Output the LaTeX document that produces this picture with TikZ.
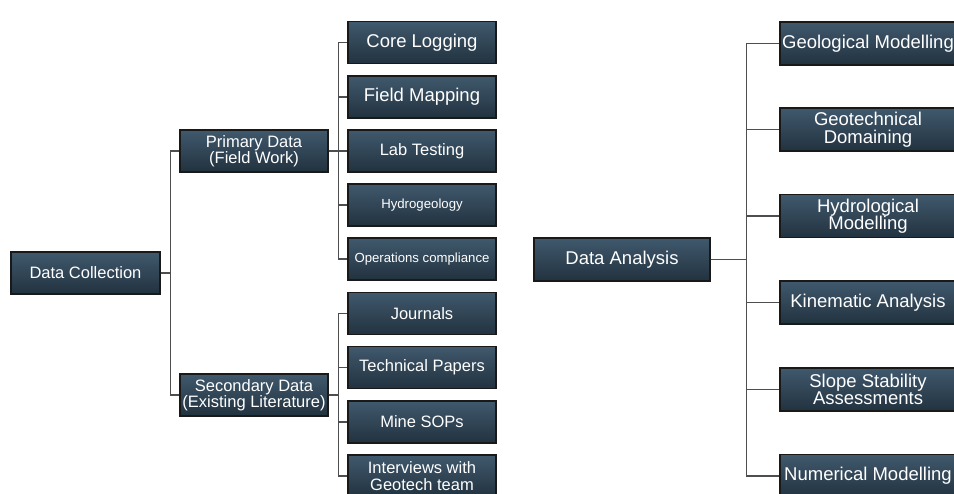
\documentclass[tikz,border=0pt]{standalone}
\usepackage{fontspec}
\setmainfont{Liberation Sans}
\definecolor{boxtop}{HTML}{40596D}
\definecolor{boxbot}{HTML}{22323F}
\definecolor{linegray}{HTML}{4E4E4E}

\begin{document}
\begin{tikzpicture}[x=1pt,y=-1pt]
    \tikzset{box/.style = {shape=rectangle, draw=black!90, line width=1.3pt, top color=boxtop, bottom color=boxbot, text=white, align=center, inner sep=0pt, minimum height=42pt, font=\fontsize{16.5}{16.5}\selectfont}}
    \tikzset{leaf/.style = {box, minimum width=148pt}}
    \tikzset{big/.style = {font=\fontsize{18.5}{17.5}\selectfont}}
    \tikzset{small/.style = {font=\fontsize{13.2}{14}\selectfont}}
    \tikzset{wide/.style = {box, big, minimum width=176pt, minimum height=43pt}}
    \tikzset{edge/.style = {draw=linegray, line width=1.5pt}}

    \useasboundingbox (0,0) rectangle (954,494);

    % left tree
    \node[box, minimum width=149pt] (dc) at (85.5,273) {Data Collection};
    \node[leaf] (pd) at (254,151) {Primary Data\\(Field Work)};
    \node[leaf] (sd) at (254,395) {Secondary Data\\(Existing Literature)};

    \node[leaf, big] (cl) at (422,42.5) {Core Logging};
    \node[leaf, big] (fm) at (422,97) {Field Mapping};
    \node[leaf] (lt) at (422,151) {Lab Testing};
    \node[leaf, small] (hg) at (422,205) {Hydrogeology};
    \node[leaf, small] (oc) at (422,259) {Operations compliance};
    \node[leaf] (jn) at (422,313.5) {Journals};
    \node[leaf] (tp) at (422,367.5) {Technical Papers};
    \node[leaf] (ms) at (422,422) {Mine SOPs};
    \node[leaf] (iv) at (422,476) {Interviews with\\Geotech team};

    % right tree
    \node[wide] (da) at (622,259.5) {Data Analysis};
    \node[wide] (gm) at (868,43.5) {Geological Modelling};
    \node[wide] (gd) at (868,129.5) {Geotechnical\\Domaining};
    \node[wide] (hm) at (868,216) {Hydrological\\Modelling};
    \node[wide] (ka) at (868,302.5) {Kinematic Analysis};
    \node[wide] (ss) at (868,389.5) {Slope Stability\\Assessments};
    \node[wide] (nm) at (868,476) {Numerical Modelling};

    % edges
    \draw[edge] (dc.east) -- ++(10,0) |- (pd.west);
    \draw[edge] (dc.east) -- ++(10,0) |- (sd.west);
    \foreach \n in {cl,fm,lt,hg,oc}
        \draw[edge] (pd.east) -- ++(10,0) |- (\n.west);
    \foreach \n in {jn,tp,ms,iv}
        \draw[edge] (sd.east) -- ++(10,0) |- (\n.west);
    \foreach \n in {gm,gd,hm,ka,ss,nm}
        \draw[edge] (da.east) -- ++(36,0) |- (\n.west);
\end{tikzpicture}
\end{document}
